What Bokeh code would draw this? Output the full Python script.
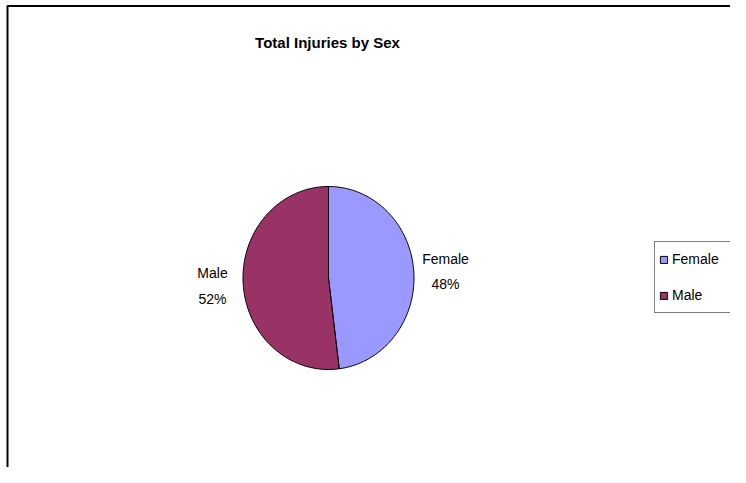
import math
from bokeh.plotting import figure
from bokeh.models import ColumnDataSource, Range1d, Legend, LegendItem, BoxAnnotation
from bokeh.core.properties import value
from bokeh.embed import file_html
from bokeh.resources import INLINE

# ---- data ----
title_text = "Total Injuries by Sex"
categories = ["Female", "Male"]
shares = [48, 52]
colors = ["#9999FF", "#993366"]

W, H = 730, 467
FONT = "Liberation Sans"

p = figure(width=W, height=H, output_backend="svg", toolbar_location=None,
           x_range=Range1d(0, W), y_range=Range1d(0, H), min_border=0,
           outline_line_color=None, background_fill_color="white")
p.axis.visible = False
p.grid.visible = False

def sy(y):  # picture y (from top) -> data y
    return H - y

# pie (slightly elliptical, as in the original drawing)
cx, cy = 328, sy(277.5)
rx, ry = 85.5, 91.5
total = float(sum(shares))
xs, ys = [], []
a = math.pi / 2
for s in shares:
    sweep = 2 * math.pi * s / total
    n = max(8, int(s * 3))
    px, py = [cx], [cy]
    for k in range(n + 1):
        t = a - sweep * k / n
        px.append(cx + rx * math.cos(t))
        py.append(cy + ry * math.sin(t))
    xs.append(px)
    ys.append(py)
    a -= sweep

src = ColumnDataSource(dict(xs=xs, ys=ys, cat=categories, color=colors))
p.patches(xs="xs", ys="ys", fill_color="color", line_color="black",
          line_width=1, line_join="round", source=src)

# slice labels
lab_x = [445, 212]
lab_y1 = [sy(258), sy(272)]
lab_y2 = [sy(283), sy(298)]
p.text(x=lab_x, y=lab_y1, text=categories, text_align="center",
       text_baseline="middle", text_font=value(FONT), text_font_size="14px",
       text_color="black")
p.text(x=lab_x, y=lab_y2, text=[f"{s}%" for s in shares], text_align="center",
       text_baseline="middle", text_font=value(FONT), text_font_size="14px",
       text_color="black")

# title
p.text(x=[327], y=[sy(42)], text=[title_text], text_align="center",
       text_baseline="middle", text_font=value(FONT), text_font_size="15px",
       text_font_style="bold", text_color="black")

# legend (renderers hold no visible points; only legend swatches show)
nan = float("nan")
items = []
for c, col in zip(categories, colors):
    rr = p.rect(x=[nan], y=[nan], width=1, height=1, fill_color=col,
                line_color="black", line_width=1)
    items.append(LegendItem(label=c, renderers=[rr]))
leg = Legend(items=items, location=(654, sy(313)),
             label_text_font=FONT, label_text_font_size="14px",
             label_text_color="black",
             glyph_width=9, glyph_height=9, label_standoff=4,
             label_height=26, label_width=100,
             spacing=10, padding=4, margin=0,
             border_line_color="black", border_line_width=1,
             background_fill_color="white")
p.add_layout(leg)

# chart border (only left and top edges fall inside the picture)
p.add_layout(BoxAnnotation(left=7, top=sy(5.5), right=W + 50, bottom=-50,
                           fill_alpha=0, line_color="black", line_alpha=1.0,
                           line_width=2))

open("out.html", "w").write(file_html(p, INLINE))
